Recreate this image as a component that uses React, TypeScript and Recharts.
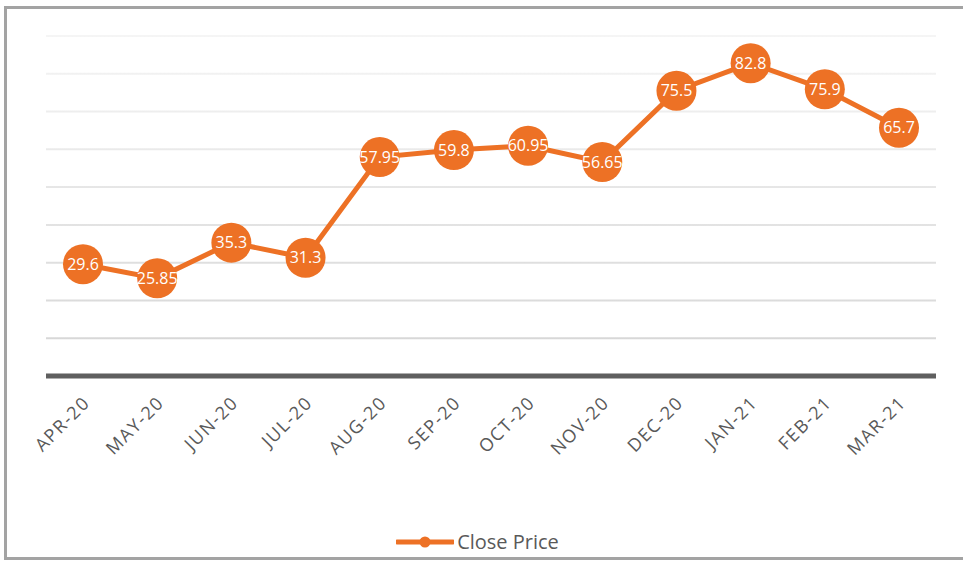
import { LineChart, Line, XAxis, YAxis, CartesianGrid, LabelList, Legend } from "recharts"

const months = ["APR-20", "MAY-20", "JUN-20", "JUL-20", "AUG-20", "SEP-20", "OCT-20", "NOV-20", "DEC-20", "JAN-21", "FEB-21", "MAR-21"]
const closePrice = [29.6, 25.85, 35.3, 31.3, 57.95, 59.8, 60.95, 56.65, 75.5, 82.8, 75.9, 65.7]
const yTicks = [0, 10, 20, 30, 40, 50, 60, 70, 80, 90]

const data = months.map((m, i) => ({ month: m, close: closePrice[i] }))

const ORANGE = "#ed7125"
const FONT = "'Open Sans', sans-serif"

const AxisTick = (props: any) => {
  const { x, y, payload } = props
  return (
    <g transform={`translate(${x + 8},${y + 20}) rotate(-45)`}>
      <text
        x={0}
        y={0}
        textAnchor="end"
        fill="#595959"
        fontSize={18}
        letterSpacing={1.5}
        fontFamily={FONT}
      >
        {payload.value}
      </text>
    </g>
  )
}

const renderLegend = () => (
  <div style={{ display: "flex", justifyContent: "center", alignItems: "center", marginLeft: -27 }}>
    <svg width={58} height={12}>
      <line x1={1} y1={6} x2={57} y2={6} stroke={ORANGE} strokeWidth={5} strokeLinecap="round" />
      <circle cx={29} cy={6} r={5.5} fill={ORANGE} />
    </svg>
    <span style={{ marginLeft: 3, fontSize: 20, color: "#595959", fontFamily: FONT }}>Close Price</span>
  </div>
)

export default function App() {
  return (
    <div style={{ position: "absolute", left: 0, top: 0, width: 963, height: 565, background: "#fff", overflow: "hidden" }}>
      <div
        style={{
          position: "absolute",
          left: 4,
          top: 6,
          width: 980,
          height: 554,
          border: "3px solid #a3a3a3",
          boxSizing: "border-box",
        }}
      />
      <div style={{ position: "absolute", left: 0, top: 0 }}>
        <LineChart width={963} height={565} data={data} margin={{ top: 36, right: 27, left: 46, bottom: 10 }}>
          <defs>
            <linearGradient id="gridFade" gradientUnits="userSpaceOnUse" x1={0} y1={36} x2={0} y2={375}>
              <stop offset="0%" stopColor="#f5f5f5" />
              <stop offset="100%" stopColor="#d4d4d4" />
            </linearGradient>
          </defs>
          <CartesianGrid vertical={false} stroke="url(#gridFade)" strokeWidth={2} />
          <YAxis hide domain={[0, 90]} ticks={yTicks} />
          <XAxis
            dataKey="month"
            padding={{ left: 37, right: 37 }}
            axisLine={{ stroke: "#5f5f5f", strokeWidth: 5 }}
            tickLine={false}
            interval={0}
            height={152}
            tick={<AxisTick />}
          />
          <Legend verticalAlign="bottom" content={renderLegend} />
          <Line
            dataKey="close"
            name="Close Price"
            stroke={ORANGE}
            strokeWidth={5}
            dot={{ r: 20, fill: ORANGE, stroke: "none" }}
            activeDot={false}
            isAnimationActive={false}
          >
            <LabelList dataKey="close" position="center" fill="#fff" fontSize={16} fontFamily={FONT} />
          </Line>
        </LineChart>
      </div>
    </div>
  )
}
